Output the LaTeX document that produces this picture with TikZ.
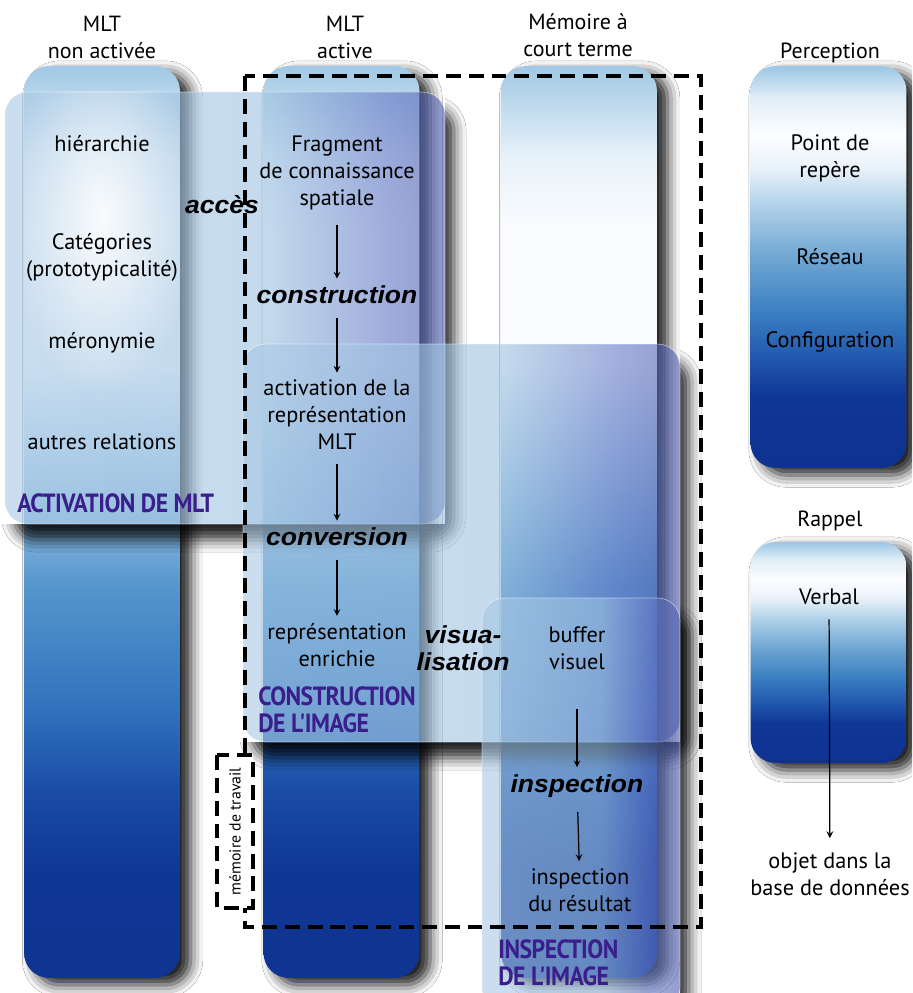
\documentclass[tikz,border=0pt]{standalone}
\usepackage{fontspec}
\setmainfont{PT Sans}
\newfontfamily\procfont{Liberation Sans}[FakeStretch=1.08]
\newfontfamily\stagefont{PT Sans}[FakeStretch=0.9, LetterSpace=-2.0]
\usetikzlibrary{arrows.meta, positioning, shadows.blur, fadings}

\definecolor{stagepurple}{RGB}{58,30,140}

% column and panel shadings
\pgfdeclareverticalshading{tallshade}{100bp}{rgb(0bp)=(.059,.204,.569); rgb(25bp)=(.059,.204,.569);
  rgb(31bp)=(.059,.216,.588); rgb(35bp)=(.098,.294,.647); rgb(40bp)=(.196,.451,.745);
  rgb(46.5bp)=(.333,.588,.804); rgb(52.5bp)=(.667,.804,.91); rgb(58.5bp)=(.98,.988,1);
  rgb(66bp)=(.98,.988,1); rgb(70bp)=(.91,.949,.98); rgb(75bp)=(.627,.784,.894);
  rgb(100bp)=(.627,.784,.894)}
\pgfdeclareverticalshading{shortshade}{100bp}{rgb(0bp)=(.059,.196,.569); rgb(25bp)=(.059,.196,.569);
  rgb(34bp)=(.059,.216,.588); rgb(39bp)=(.137,.353,.686); rgb(44bp)=(.216,.49,.753);
  rgb(51bp)=(.431,.647,.824); rgb(57.5bp)=(.686,.816,.91); rgb(62.5bp)=(.92,.953,.98);
  rgb(66.5bp)=(.988,.992,1); rgb(71bp)=(.882,.933,.969); rgb(75bp)=(.608,.776,.894);
  rgb(100bp)=(.608,.776,.894)}
\pgfdeclarehorizontalshading{panelshade}{100bp}{rgb(0bp)=(.66,.79,.90); rgb(25bp)=(.66,.79,.90);
  rgb(55bp)=(.62,.76,.88); rgb(68bp)=(.40,.48,.78); rgb(75bp)=(.30,.36,.68); rgb(100bp)=(.30,.36,.68)}
\tikzfading[name=glowfade, inner color=transparent!0, outer color=transparent!100]

\begin{document}
\begin{tikzpicture}[x=0.02cm, y=-0.02cm, >=stealth,
  col/.style={rounded corners=0.5cm, minimum width=3.12cm, inner sep=0pt,
    blur shadow={shadow xshift=6pt, shadow yshift=-4pt, shadow blur radius=7pt, shadow opacity=90}},
  tallcol/.style={col, shading=tallshade, minimum height=18.24cm},
  shortcol/.style={col, shading=shortshade},
  panel/.style={rounded corners=0.45cm, shading=panelshade, fill opacity=0.6,
    draw=white, draw opacity=0.5, line width=0.4pt},
  panelshadow/.style={rounded corners=0.45cm,
    blur shadow={shadow xshift=5pt, shadow yshift=-9pt, shadow blur radius=7pt, shadow opacity=85}},
  dashbox/.style={draw=black, line width=1.9pt, dash pattern=on 8.5pt off 4.5pt},
  head/.style={align=center, inner sep=0pt, font=\fontsize{12.5}{15.4}\selectfont},
  txt/.style={align=center, inner sep=0pt, font=\fontsize{12.7}{15.4}\selectfont},
  proc/.style={align=center, inner sep=0pt, font=\procfont\bfseries\itshape\fontsize{14}{15.4}\selectfont},
  stage/.style={align=left, anchor=west, inner sep=0pt, text=stagepurple,
    font=\stagefont\bfseries\fontsize{15}{15.4}\selectfont},
  flow/.style={->, line width=0.7pt, shorten <=8pt, shorten >=4pt}]
\clip (0,0) rectangle (912,993);
\fill[white] (0,0) rectangle (912,993);

% Columns
\node[tallcol] (mltna) at (102,522) {};
\node[tallcol] (mltact) at (341.5,522) {};
\node[tallcol] (mct) at (579,522) {};
\node[shortcol, minimum height=8.04cm] (percep) at (828.5,267) {};
\node[shortcol, minimum height=4.42cm] (rappel) at (828.5,652.5) {};

% Column titles
\node[head] (t_mltna) at (102,37) {MLT\\non activée};
\node[head] (t_mltact) at (345,37) {MLT\\active};
\node[head] (t_mct) at (578,35) {Mémoire à\\court terme};
\node[head] (t_percep) at (830,53) {Perception};
\node[head] (t_rappel) at (830,521) {Rappel};

% Stages (translucent panels, shadow kept outside each panel)
\begin{scope}
  \clip (445,0) rectangle (912,993) (0,524) rectangle (445,993);
  \path[panelshadow] (5,92) rectangle (445,524);
\end{scope}
\path[panel] (5,92) rectangle (445,524);
\begin{scope}
  \clip (24,92) rectangle (180,524);
  \fill[white, path fading=glowfade, fill opacity=0.9] (102,215) ellipse [x radius=1.9cm, y radius=3.6cm];
\end{scope}
\begin{scope}
  \clip (680,0) rectangle (912,993) (0,742) rectangle (680,993);
  \path[panelshadow] (243,344) rectangle (680,742);
\end{scope}
\path[panel] (243,344) rectangle (680,742);
\begin{scope}
  \clip (680,0) rectangle (912,993);
  \path[panelshadow] (482,598) rectangle (680,1010);
\end{scope}
\path[panel] (482,598) rectangle (680,1010);

% Working memory frame
\draw[dashbox] (245,76) rectangle (701,927);
\node[dashbox, fill=white, rotate=90, minimum width=3.06cm, minimum height=0.72cm,
  inner sep=0pt, font=\fontsize{9}{10}\selectfont] (work) at (235,831.5) {mémoire de travail};

% MLT non activee
\node[txt] (hier) at (102,143.5) {hiérarchie};
\node[txt] (categ) at (102,257) {Catégories\\(prototypicalité)};
\node[txt] (mero) at (102,343) {méronymie};
\node[txt] (autres) at (102,442) {autres relations};
\node[stage] (actmlt) at (17,503) {ACTIVATION DE MLT};

% MLT active
\node[txt] (frag) at (337,173) {Fragment\\de connaissance\\spatiale};
\node[proc] (acces) at (222,205) {accès};
\node[proc] (constr) at (337,295) {construction};
\node[txt] (activ) at (337,415) {activation de la\\représentation\\MLT};
\node[proc] (conv) at (337,537) {conversion};
\node[txt] (enrich) at (337,645) {représentation\\enrichie};
\node[stage] (constimg) at (258,710) {CONSTRUCTION\\DE L'IMAGE};
\node[proc] (visu) at (463,648) {visua-\\lisation};

% Memoire a court terme
\node[txt] (buffer) at (577,648) {buffer\\visuel};
\node[proc] (insp) at (577,786) {inspection};
\node[txt] (result) at (580,890) {inspection\\du résultat};
\node[stage] (inspimg) at (498,963) {INSPECTION\\DE L'IMAGE};

% Perception / Rappel
\node[txt] (repere) at (830,158) {Point de\\repère};
\node[txt] (reseau) at (830,257) {Réseau};
\node[txt] (config) at (830,342) {Configuration};
\node[txt] (verbal) at (829,597) {Verbal};
\node[txt] (objet) at (830,874) {objet dans la\\base de données};

% Arrows
\draw[flow] (frag) -- (constr);
\draw[flow] (constr) -- (activ);
\draw[flow] (activ) -- (conv);
\draw[flow] (conv) -- (enrich);
\draw[flow, shorten <=22pt] (buffer) -- (insp);
\draw[flow] (insp) -- (result);
\draw[flow, shorten >=8pt] (verbal) -- (objet);
\end{tikzpicture}
\end{document}
